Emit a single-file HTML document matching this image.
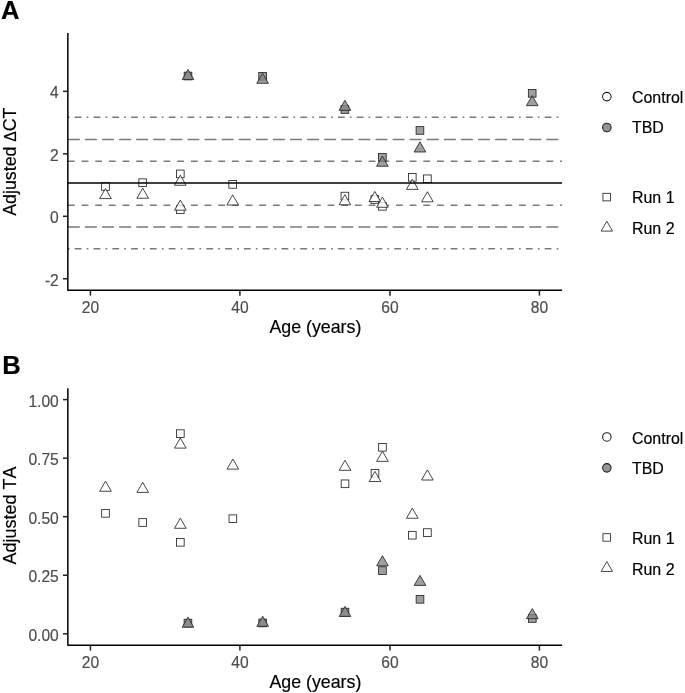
<!DOCTYPE html>
<html><head><meta charset="utf-8"><style>
html,body{margin:0;padding:0;background:#fff;}
svg{display:block;will-change:transform;font-kerning:none;font-family:"Liberation Sans",sans-serif;}
</style></head><body>
<svg width="685" height="693" viewBox="0 0 685 693">
<rect width="685" height="693" fill="#fff"/>
<text x="1.1" y="18.6" font-size="25.6" font-weight="bold" fill="#000" stroke="#000" stroke-width="0.18">A</text>
<line x1="67.85" y1="117.3" x2="562.1" y2="117.3" stroke="#7a7a7a" stroke-width="1.5" stroke-dasharray="1.709 5.127 6.836 5.127"/>
<line x1="67.85" y1="139.45" x2="562.1" y2="139.45" stroke="#7a7a7a" stroke-width="1.5" stroke-dasharray="11.963 5.127"/>
<line x1="67.85" y1="161.2" x2="562.1" y2="161.2" stroke="#7a7a7a" stroke-width="1.5" stroke-dasharray="6.836 6.836"/>
<line x1="67.85" y1="205.25" x2="562.1" y2="205.25" stroke="#7a7a7a" stroke-width="1.5" stroke-dasharray="6.836 6.836"/>
<line x1="67.85" y1="227.0" x2="562.1" y2="227.0" stroke="#7a7a7a" stroke-width="1.5" stroke-dasharray="11.963 5.127"/>
<line x1="67.85" y1="248.85" x2="562.1" y2="248.85" stroke="#7a7a7a" stroke-width="1.5" stroke-dasharray="1.709 5.127 6.836 5.127"/>
<rect x="101.66" y="182.66" width="7.67" height="7.67" fill="#ffffff" fill-opacity="0.8" stroke="#262626" stroke-width="0.85"/>
<rect x="138.86" y="178.86" width="7.67" height="7.67" fill="#ffffff" fill-opacity="0.8" stroke="#262626" stroke-width="0.85"/>
<rect x="176.46" y="170.06" width="7.67" height="7.67" fill="#ffffff" fill-opacity="0.8" stroke="#262626" stroke-width="0.85"/>
<rect x="176.46" y="205.86" width="7.67" height="7.67" fill="#ffffff" fill-opacity="0.8" stroke="#262626" stroke-width="0.85"/>
<rect x="184.16" y="72.16" width="7.67" height="7.67" fill="#878787" fill-opacity="0.8" stroke="#262626" stroke-width="0.85"/>
<rect x="228.86" y="180.56" width="7.67" height="7.67" fill="#ffffff" fill-opacity="0.8" stroke="#262626" stroke-width="0.85"/>
<rect x="258.76" y="72.46" width="7.67" height="7.67" fill="#878787" fill-opacity="0.8" stroke="#262626" stroke-width="0.85"/>
<rect x="341.06" y="105.66" width="7.67" height="7.67" fill="#878787" fill-opacity="0.8" stroke="#262626" stroke-width="0.85"/>
<rect x="341.06" y="192.26" width="7.67" height="7.67" fill="#ffffff" fill-opacity="0.8" stroke="#262626" stroke-width="0.85"/>
<rect x="370.96" y="195.66" width="7.67" height="7.67" fill="#ffffff" fill-opacity="0.8" stroke="#262626" stroke-width="0.85"/>
<rect x="378.56" y="202.46" width="7.67" height="7.67" fill="#ffffff" fill-opacity="0.8" stroke="#262626" stroke-width="0.85"/>
<rect x="378.56" y="153.56" width="7.67" height="7.67" fill="#878787" fill-opacity="0.8" stroke="#262626" stroke-width="0.85"/>
<rect x="408.46" y="173.46" width="7.67" height="7.67" fill="#ffffff" fill-opacity="0.8" stroke="#262626" stroke-width="0.85"/>
<rect x="416.11" y="126.61" width="7.67" height="7.67" fill="#878787" fill-opacity="0.8" stroke="#262626" stroke-width="0.85"/>
<rect x="423.56" y="174.96" width="7.67" height="7.67" fill="#ffffff" fill-opacity="0.8" stroke="#262626" stroke-width="0.85"/>
<rect x="528.36" y="89.51" width="7.67" height="7.67" fill="#878787" fill-opacity="0.8" stroke="#262626" stroke-width="0.85"/>
<polygon points="105.50,188.47 111.33,198.57 99.67,198.57" fill="#ffffff" fill-opacity="0.8" stroke="#262626" stroke-width="0.85" stroke-linejoin="round"/>
<polygon points="142.70,188.17 148.53,198.27 136.87,198.27" fill="#ffffff" fill-opacity="0.8" stroke="#262626" stroke-width="0.85" stroke-linejoin="round"/>
<polygon points="180.30,175.17 186.13,185.27 174.47,185.27" fill="#ffffff" fill-opacity="0.8" stroke="#262626" stroke-width="0.85" stroke-linejoin="round"/>
<polygon points="180.30,200.07 186.13,210.17 174.47,210.17" fill="#ffffff" fill-opacity="0.8" stroke="#262626" stroke-width="0.85" stroke-linejoin="round"/>
<polygon points="188.00,69.47 193.83,79.57 182.17,79.57" fill="#878787" fill-opacity="0.8" stroke="#262626" stroke-width="0.85" stroke-linejoin="round"/>
<polygon points="232.70,194.87 238.53,204.97 226.87,204.97" fill="#ffffff" fill-opacity="0.8" stroke="#262626" stroke-width="0.85" stroke-linejoin="round"/>
<polygon points="262.60,73.22 268.43,83.32 256.77,83.32" fill="#878787" fill-opacity="0.8" stroke="#262626" stroke-width="0.85" stroke-linejoin="round"/>
<polygon points="344.90,100.27 350.73,110.37 339.07,110.37" fill="#878787" fill-opacity="0.8" stroke="#262626" stroke-width="0.85" stroke-linejoin="round"/>
<polygon points="344.90,194.67 350.73,204.77 339.07,204.77" fill="#ffffff" fill-opacity="0.8" stroke="#262626" stroke-width="0.85" stroke-linejoin="round"/>
<polygon points="374.80,191.47 380.63,201.57 368.97,201.57" fill="#ffffff" fill-opacity="0.8" stroke="#262626" stroke-width="0.85" stroke-linejoin="round"/>
<polygon points="382.40,197.17 388.23,207.27 376.57,207.27" fill="#ffffff" fill-opacity="0.8" stroke="#262626" stroke-width="0.85" stroke-linejoin="round"/>
<polygon points="382.40,156.17 388.23,166.27 376.57,166.27" fill="#878787" fill-opacity="0.8" stroke="#262626" stroke-width="0.85" stroke-linejoin="round"/>
<polygon points="412.30,179.27 418.13,189.37 406.47,189.37" fill="#ffffff" fill-opacity="0.8" stroke="#262626" stroke-width="0.85" stroke-linejoin="round"/>
<polygon points="419.95,141.87 425.78,151.97 414.12,151.97" fill="#878787" fill-opacity="0.8" stroke="#262626" stroke-width="0.85" stroke-linejoin="round"/>
<polygon points="427.40,191.72 433.23,201.82 421.57,201.82" fill="#ffffff" fill-opacity="0.8" stroke="#262626" stroke-width="0.85" stroke-linejoin="round"/>
<polygon points="532.20,95.57 538.03,105.67 526.37,105.67" fill="#878787" fill-opacity="0.8" stroke="#262626" stroke-width="0.85" stroke-linejoin="round"/>
<line x1="67.85" y1="183.1" x2="562.1" y2="183.1" stroke="#000" stroke-width="1.5"/>
<path d="M67.85,33.05 L67.85,290.25 L562.1,290.25" fill="none" stroke="#000" stroke-width="1.5" stroke-linejoin="round"/>
<line x1="62.95" y1="91.35" x2="67.85" y2="91.35" stroke="#222" stroke-width="1.5"/>
<text x="58.8" y="98.25" text-anchor="end" font-size="15.6" fill="#4d4d4d" stroke="#4d4d4d" stroke-width="0.18">4</text>
<line x1="62.95" y1="153.85" x2="67.85" y2="153.85" stroke="#222" stroke-width="1.5"/>
<text x="58.8" y="160.75" text-anchor="end" font-size="15.6" fill="#4d4d4d" stroke="#4d4d4d" stroke-width="0.18">2</text>
<line x1="62.95" y1="216.3" x2="67.85" y2="216.3" stroke="#222" stroke-width="1.5"/>
<text x="58.8" y="223.20" text-anchor="end" font-size="15.6" fill="#4d4d4d" stroke="#4d4d4d" stroke-width="0.18">0</text>
<line x1="62.95" y1="278.75" x2="67.85" y2="278.75" stroke="#222" stroke-width="1.5"/>
<text x="58.8" y="285.65" text-anchor="end" font-size="15.6" fill="#4d4d4d" stroke="#4d4d4d" stroke-width="0.18">-2</text>
<line x1="90.45" y1="290.25" x2="90.45" y2="295.65" stroke="#222" stroke-width="1.5"/>
<text x="90.45" y="312.55" text-anchor="middle" font-size="15.6" fill="#4d4d4d" stroke="#4d4d4d" stroke-width="0.18">20</text>
<line x1="239.9" y1="290.25" x2="239.9" y2="295.65" stroke="#222" stroke-width="1.5"/>
<text x="239.9" y="312.55" text-anchor="middle" font-size="15.6" fill="#4d4d4d" stroke="#4d4d4d" stroke-width="0.18">40</text>
<line x1="389.95" y1="290.25" x2="389.95" y2="295.65" stroke="#222" stroke-width="1.5"/>
<text x="389.95" y="312.55" text-anchor="middle" font-size="15.6" fill="#4d4d4d" stroke="#4d4d4d" stroke-width="0.18">60</text>
<line x1="539.4" y1="290.25" x2="539.4" y2="295.65" stroke="#222" stroke-width="1.5"/>
<text x="539.4" y="312.55" text-anchor="middle" font-size="15.6" fill="#4d4d4d" stroke="#4d4d4d" stroke-width="0.18">80</text>
<text x="315.38" y="332.65" text-anchor="middle" font-size="17.8" fill="#000" stroke="#000" stroke-width="0.18">Age (years)</text>
<text transform="translate(15.6,161.65) rotate(-90)" text-anchor="middle" font-size="17.8" fill="#000" stroke="#000" stroke-width="0.18">Adjusted <tspan font-size="15.6">Δ</tspan>CT</text>
<circle cx="606.85" cy="96.60" r="4.25" fill="#ffffff" stroke="#1a1a1a" stroke-width="1.05"/>
<circle cx="606.85" cy="127.50" r="4.25" fill="#959595" stroke="#1a1a1a" stroke-width="1.05"/>
<rect x="602.93" y="193.33" width="7.53" height="7.53" fill="none" stroke="#333" stroke-width="0.9"/>
<polygon points="606.85,221.19 612.57,231.10 601.13,231.10" fill="none" stroke="#333" stroke-width="0.9" stroke-linejoin="round"/>
<text x="632" y="102.60" font-size="15.95" fill="#000" stroke="#000" stroke-width="0.18">Control</text>
<text x="632" y="133.40" font-size="15.95" fill="#000" stroke="#000" stroke-width="0.18">TBD</text>
<text x="632" y="202.60" font-size="15.95" fill="#000" stroke="#000" stroke-width="0.18">Run 1</text>
<text x="632" y="233.90" font-size="15.95" fill="#000" stroke="#000" stroke-width="0.18">Run 2</text>
<text x="2.3" y="373.6" font-size="25.6" font-weight="bold" fill="#000" stroke="#000" stroke-width="0.18">B</text>
<rect x="101.66" y="509.51" width="7.67" height="7.67" fill="#ffffff" fill-opacity="0.8" stroke="#262626" stroke-width="0.85"/>
<rect x="138.86" y="518.66" width="7.67" height="7.67" fill="#ffffff" fill-opacity="0.8" stroke="#262626" stroke-width="0.85"/>
<rect x="176.51" y="429.81" width="7.67" height="7.67" fill="#ffffff" fill-opacity="0.8" stroke="#262626" stroke-width="0.85"/>
<rect x="176.51" y="538.46" width="7.67" height="7.67" fill="#ffffff" fill-opacity="0.8" stroke="#262626" stroke-width="0.85"/>
<rect x="184.11" y="619.26" width="7.67" height="7.67" fill="#878787" fill-opacity="0.8" stroke="#262626" stroke-width="0.85"/>
<rect x="229.01" y="514.86" width="7.67" height="7.67" fill="#ffffff" fill-opacity="0.8" stroke="#262626" stroke-width="0.85"/>
<rect x="258.86" y="619.11" width="7.67" height="7.67" fill="#878787" fill-opacity="0.8" stroke="#262626" stroke-width="0.85"/>
<rect x="341.16" y="479.96" width="7.67" height="7.67" fill="#ffffff" fill-opacity="0.8" stroke="#262626" stroke-width="0.85"/>
<rect x="341.16" y="608.26" width="7.67" height="7.67" fill="#878787" fill-opacity="0.8" stroke="#262626" stroke-width="0.85"/>
<rect x="371.16" y="469.56" width="7.67" height="7.67" fill="#ffffff" fill-opacity="0.8" stroke="#262626" stroke-width="0.85"/>
<rect x="378.61" y="443.46" width="7.67" height="7.67" fill="#ffffff" fill-opacity="0.8" stroke="#262626" stroke-width="0.85"/>
<rect x="378.61" y="566.76" width="7.67" height="7.67" fill="#878787" fill-opacity="0.8" stroke="#262626" stroke-width="0.85"/>
<rect x="408.46" y="531.36" width="7.67" height="7.67" fill="#ffffff" fill-opacity="0.8" stroke="#262626" stroke-width="0.85"/>
<rect x="416.16" y="595.46" width="7.67" height="7.67" fill="#878787" fill-opacity="0.8" stroke="#262626" stroke-width="0.85"/>
<rect x="423.56" y="528.76" width="7.67" height="7.67" fill="#ffffff" fill-opacity="0.8" stroke="#262626" stroke-width="0.85"/>
<rect x="528.46" y="614.66" width="7.67" height="7.67" fill="#878787" fill-opacity="0.8" stroke="#262626" stroke-width="0.85"/>
<polygon points="105.50,481.17 111.33,491.27 99.67,491.27" fill="#ffffff" fill-opacity="0.8" stroke="#262626" stroke-width="0.85" stroke-linejoin="round"/>
<polygon points="142.70,482.32 148.53,492.42 136.87,492.42" fill="#ffffff" fill-opacity="0.8" stroke="#262626" stroke-width="0.85" stroke-linejoin="round"/>
<polygon points="180.35,438.02 186.18,448.12 174.52,448.12" fill="#ffffff" fill-opacity="0.8" stroke="#262626" stroke-width="0.85" stroke-linejoin="round"/>
<polygon points="180.35,518.17 186.18,528.27 174.52,528.27" fill="#ffffff" fill-opacity="0.8" stroke="#262626" stroke-width="0.85" stroke-linejoin="round"/>
<polygon points="187.95,617.12 193.78,627.22 182.12,627.22" fill="#878787" fill-opacity="0.8" stroke="#262626" stroke-width="0.85" stroke-linejoin="round"/>
<polygon points="232.85,459.02 238.68,469.12 227.02,469.12" fill="#ffffff" fill-opacity="0.8" stroke="#262626" stroke-width="0.85" stroke-linejoin="round"/>
<polygon points="262.70,616.22 268.53,626.32 256.87,626.32" fill="#878787" fill-opacity="0.8" stroke="#262626" stroke-width="0.85" stroke-linejoin="round"/>
<polygon points="345.00,460.22 350.83,470.32 339.17,470.32" fill="#ffffff" fill-opacity="0.8" stroke="#262626" stroke-width="0.85" stroke-linejoin="round"/>
<polygon points="345.00,606.42 350.83,616.52 339.17,616.52" fill="#878787" fill-opacity="0.8" stroke="#262626" stroke-width="0.85" stroke-linejoin="round"/>
<polygon points="375.00,471.42 380.83,481.52 369.17,481.52" fill="#ffffff" fill-opacity="0.8" stroke="#262626" stroke-width="0.85" stroke-linejoin="round"/>
<polygon points="382.45,451.27 388.28,461.37 376.62,461.37" fill="#ffffff" fill-opacity="0.8" stroke="#262626" stroke-width="0.85" stroke-linejoin="round"/>
<polygon points="382.45,555.67 388.28,565.77 376.62,565.77" fill="#878787" fill-opacity="0.8" stroke="#262626" stroke-width="0.85" stroke-linejoin="round"/>
<polygon points="412.30,508.17 418.13,518.27 406.47,518.27" fill="#ffffff" fill-opacity="0.8" stroke="#262626" stroke-width="0.85" stroke-linejoin="round"/>
<polygon points="420.00,575.32 425.83,585.42 414.17,585.42" fill="#878787" fill-opacity="0.8" stroke="#262626" stroke-width="0.85" stroke-linejoin="round"/>
<polygon points="427.40,469.92 433.23,480.02 421.57,480.02" fill="#ffffff" fill-opacity="0.8" stroke="#262626" stroke-width="0.85" stroke-linejoin="round"/>
<polygon points="532.30,608.57 538.13,618.67 526.47,618.67" fill="#878787" fill-opacity="0.8" stroke="#262626" stroke-width="0.85" stroke-linejoin="round"/>
<path d="M67.85,388.3 L67.85,645.2 L562.1,645.2" fill="none" stroke="#000" stroke-width="1.5" stroke-linejoin="round"/>
<line x1="62.95" y1="399.6" x2="67.85" y2="399.6" stroke="#222" stroke-width="1.5"/>
<text x="58.8" y="406.50" text-anchor="end" font-size="15.6" fill="#4d4d4d" stroke="#4d4d4d" stroke-width="0.18">1.00</text>
<line x1="62.95" y1="458.15" x2="67.85" y2="458.15" stroke="#222" stroke-width="1.5"/>
<text x="58.8" y="465.05" text-anchor="end" font-size="15.6" fill="#4d4d4d" stroke="#4d4d4d" stroke-width="0.18">0.75</text>
<line x1="62.95" y1="516.7" x2="67.85" y2="516.7" stroke="#222" stroke-width="1.5"/>
<text x="58.8" y="523.60" text-anchor="end" font-size="15.6" fill="#4d4d4d" stroke="#4d4d4d" stroke-width="0.18">0.50</text>
<line x1="62.95" y1="575.25" x2="67.85" y2="575.25" stroke="#222" stroke-width="1.5"/>
<text x="58.8" y="582.15" text-anchor="end" font-size="15.6" fill="#4d4d4d" stroke="#4d4d4d" stroke-width="0.18">0.25</text>
<line x1="62.95" y1="633.8" x2="67.85" y2="633.8" stroke="#222" stroke-width="1.5"/>
<text x="58.8" y="640.70" text-anchor="end" font-size="15.6" fill="#4d4d4d" stroke="#4d4d4d" stroke-width="0.18">0.00</text>
<line x1="90.45" y1="645.2" x2="90.45" y2="650.6" stroke="#222" stroke-width="1.5"/>
<text x="90.45" y="667.50" text-anchor="middle" font-size="15.6" fill="#4d4d4d" stroke="#4d4d4d" stroke-width="0.18">20</text>
<line x1="239.9" y1="645.2" x2="239.9" y2="650.6" stroke="#222" stroke-width="1.5"/>
<text x="239.9" y="667.50" text-anchor="middle" font-size="15.6" fill="#4d4d4d" stroke="#4d4d4d" stroke-width="0.18">40</text>
<line x1="389.95" y1="645.2" x2="389.95" y2="650.6" stroke="#222" stroke-width="1.5"/>
<text x="389.95" y="667.50" text-anchor="middle" font-size="15.6" fill="#4d4d4d" stroke="#4d4d4d" stroke-width="0.18">60</text>
<line x1="539.4" y1="645.2" x2="539.4" y2="650.6" stroke="#222" stroke-width="1.5"/>
<text x="539.4" y="667.50" text-anchor="middle" font-size="15.6" fill="#4d4d4d" stroke="#4d4d4d" stroke-width="0.18">80</text>
<text x="315.38" y="687.60" text-anchor="middle" font-size="17.8" fill="#000" stroke="#000" stroke-width="0.18">Age (years)</text>
<text transform="translate(15.6,515.50) rotate(-90)" text-anchor="middle" font-size="18.0" fill="#000" stroke="#000" stroke-width="0.18">Adjusted TA</text>
<circle cx="606.85" cy="436.95" r="4.25" fill="#ffffff" stroke="#1a1a1a" stroke-width="1.05"/>
<circle cx="606.85" cy="467.85" r="4.25" fill="#959595" stroke="#1a1a1a" stroke-width="1.05"/>
<rect x="602.93" y="533.68" width="7.53" height="7.53" fill="none" stroke="#333" stroke-width="0.9"/>
<polygon points="606.85,561.54 612.57,571.45 601.13,571.45" fill="none" stroke="#333" stroke-width="0.9" stroke-linejoin="round"/>
<text x="632" y="443.50" font-size="15.95" fill="#000" stroke="#000" stroke-width="0.18">Control</text>
<text x="632" y="474.30" font-size="15.95" fill="#000" stroke="#000" stroke-width="0.18">TBD</text>
<text x="632" y="543.50" font-size="15.95" fill="#000" stroke="#000" stroke-width="0.18">Run 1</text>
<text x="632" y="574.80" font-size="15.95" fill="#000" stroke="#000" stroke-width="0.18">Run 2</text>
</svg>
</body></html>
